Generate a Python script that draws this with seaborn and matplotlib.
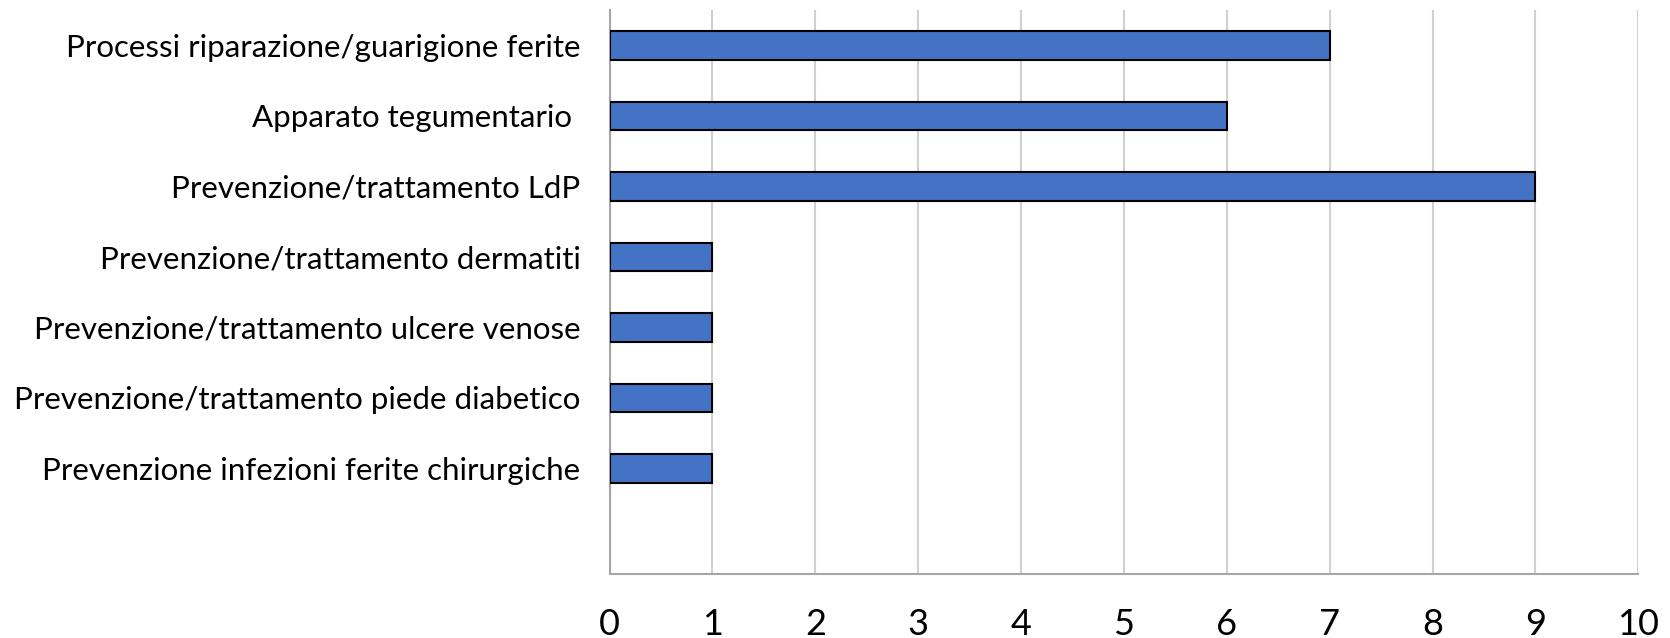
import matplotlib
matplotlib.use('Agg')
import matplotlib.pyplot as plt
import seaborn as sns
import pandas as pd

# Data
categories = [
    'Processi riparazione/guarigione ferite',
    'Apparato tegumentario ',
    'Prevenzione/trattamento LdP',
    'Prevenzione/trattamento dermatiti',
    'Prevenzione/trattamento ulcere venose',
    'Prevenzione/trattamento piede diabetico',
    'Prevenzione infezioni ferite chirurgiche',
]
values = [7, 6, 9, 1, 1, 1, 1]
x_ticks = list(range(0, 11))

df = pd.DataFrame({'Categoria': categories, 'Valore': values})

sns.set_style('white')
plt.rcParams['font.family'] = ['Lato', 'DejaVu Sans']

fig = plt.figure(figsize=(16.7, 6.38), dpi=100)
ax = fig.add_axes([0.365, 0.100, 0.616, 0.884])

sns.barplot(data=df, x='Valore', y='Categoria', orient='h', order=categories,
            color='#4472C4', saturation=1, width=0.41,
            edgecolor='black', linewidth=1.5, ax=ax, zorder=3)

# an empty slot is left under the last bar
ax.set_ylim(7.5, -0.5)
ax.set_xlim(0, 10)
ax.set_xticks(x_ticks)

ax.grid(axis='x', color='#d0d0d0', linewidth=1.5, zorder=0)
ax.grid(axis='y', visible=False)
for side in ['top', 'right']:
    ax.spines[side].set_visible(False)
for side in ['left', 'bottom']:
    ax.spines[side].set_color('#a6a6a6')
    ax.spines[side].set_linewidth(1.5)

ax.tick_params(axis='both', length=0, colors='#000000')
ax.tick_params(axis='y', pad=21, labelsize=22.5)
ax.tick_params(axis='x', pad=24, labelsize=26)
ax.set_xlabel('')
ax.set_ylabel('')

fig.savefig('out.png', dpi=100)
